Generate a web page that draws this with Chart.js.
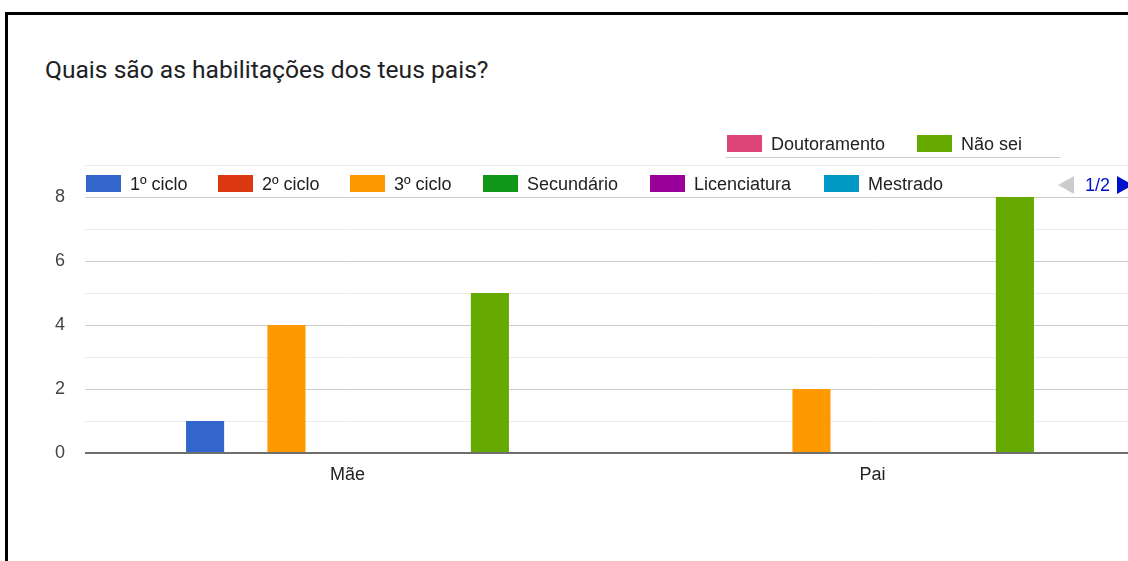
<!DOCTYPE html>
<html>
<head>
<meta charset="utf-8">
<script src="https://cdn.jsdelivr.net/npm/chart.js@4.4.1/dist/chart.umd.min.js"></script>
<style>
  html, body { margin: 0; padding: 0; background: #fff; overflow: hidden; width: 1128px; height: 561px; }
  #frame { position: absolute; left: 5px; top: 12px; width: 2000px; height: 2000px;
           border-top: 3px solid #000; border-left: 3px solid #000; }
  #title { position: absolute; left: 45px; top: 55px; font-family: Roboto, sans-serif;
           font-size: 24.6px; color: #202124; white-space: nowrap; }
  #wrap { position: absolute; left: 0; top: 0; width: 1140px; height: 561px; }
  .item { position: absolute; height: 17px; font-family: "Liberation Sans", Arial, sans-serif;
          font-size: 18px; color: #222; white-space: nowrap; }
  .sw { position: absolute; left: 0; top: 0; width: 35px; height: 17px; }
  .lbl { position: absolute; left: 44px; top: -1px; line-height: 21px; }
  .rule { position: absolute; height: 1px; }
  #pager { position: absolute; left: 1058px; top: 175px; font-family: "Liberation Sans", Arial, sans-serif;
           font-size: 18px; color: #0011cc; white-space: nowrap; }
</style>
</head>
<body>
<div id="frame"></div>
<div id="title">Quais são as habilitações dos teus pais?</div>
<div id="wrap"><canvas id="chart" width="1140" height="561"></canvas></div>
<div id="legend"></div>
<script>
const categories = ['Mãe', 'Pai'];
const seriesNames = ['1º ciclo', '2º ciclo', '3º ciclo', 'Secundário', 'Licenciatura', 'Mestrado', 'Doutoramento', 'Não sei'];
const seriesColors = ['#3366cc', '#dc3912', '#ff9900', '#109618', '#990099', '#0099c6', '#dd4477', '#66aa00'];
const maeValues = [1, 0, 4, 0, 0, 0, 0, 5];
const paiValues = [0, 0, 2, 0, 0, 0, 0, 8];
const yTicks = [0, 2, 4, 6, 8];

const datasets = seriesNames.map((name, i) => ({
  label: name,
  data: [maeValues[i], paiValues[i]],
  backgroundColor: seriesColors[i],
  borderWidth: 0,
  categoryPercentage: 0.62,
  barPercentage: 0.936
}));

const ctx = document.getElementById('chart').getContext('2d');
new Chart(ctx, {
  type: 'bar',
  data: { labels: categories, datasets: datasets },
  options: {
    responsive: false,
    animation: false,
    layout: { padding: { top: 197, right: 5, left: 0, bottom: 0 } },
    plugins: { legend: { display: false }, tooltip: { enabled: false }, title: { display: false } },
    scales: {
      x: {
        grid: { display: false },
        border: { display: false },
        ticks: { color: '#222', font: { family: 'Liberation Sans', size: 18 }, padding: 3 },
        afterFit: s => { s.height = 108; }
      },
      y: {
        min: 0,
        max: 8,
        border: { display: false },
        ticks: {
          stepSize: 1,
          autoSkip: false,
          padding: 20,
          color: '#444',
          font: { family: 'Liberation Sans', size: 18 },
          callback: v => yTicks.includes(v) ? String(v) : ''
        },
        grid: {
          drawTicks: false,
          color: c => c.tick.value === 0 ? '#6e6e6e' : (yTicks.includes(c.tick.value) ? '#cccccc' : '#ebebeb'),
          lineWidth: c => c.tick.value === 0 ? 2 : 1
        },
        afterFit: s => { s.width = 85; }
      }
    }
  }
});

// legend, page 1 of 2 (Google Forms style)
const legend = document.getElementById('legend');
const row1Left = [86, 218, 350, 483, 650, 824];
const row2Left = [727, 917];
function addItem(i, left, top) {
  const d = document.createElement('div');
  d.className = 'item';
  d.style.left = left + 'px';
  d.style.top = top + 'px';
  d.innerHTML = '<div class="sw" style="background:' + seriesColors[i] + '"></div><div class="lbl">' + seriesNames[i] + '</div>';
  legend.appendChild(d);
}
function addRule(left, top, width, color) {
  const r = document.createElement('div');
  r.className = 'rule';
  r.style.left = left + 'px';
  r.style.top = top + 'px';
  r.style.width = width + 'px';
  r.style.background = color;
  legend.appendChild(r);
}
row1Left.forEach((x, i) => addItem(i, x, 175));
row2Left.forEach((x, i) => addItem(i + row1Left.length, x, 135));
addRule(726, 157, 334, '#cccccc');
addRule(85, 165, 1050, '#ebebeb');

const pager = document.createElement('div');
pager.id = 'pager';
pager.innerHTML = '<span style="display:inline-block;width:0;height:0;border-top:9px solid transparent;border-bottom:9px solid transparent;border-right:16px solid #ccc;vertical-align:-3px"></span>' +
  '<span style="margin-left:11px">1/2</span>' +
  '<span style="display:inline-block;width:0;height:0;border-top:9px solid transparent;border-bottom:9px solid transparent;border-left:16px solid #0011cc;vertical-align:-3px;margin-left:7px"></span>';
legend.appendChild(pager);
</script>
</body>
</html>
